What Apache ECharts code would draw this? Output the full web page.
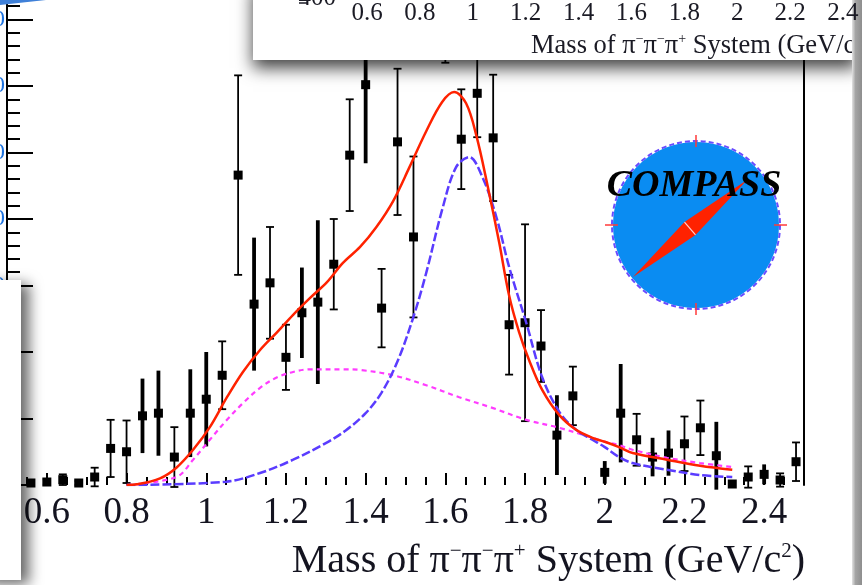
<!DOCTYPE html>
<html>
<head>
<meta charset="utf-8">
<title>Mass of π⁻π⁻π⁺ System</title>
<script src="https://cdn.jsdelivr.net/npm/echarts@6/dist/echarts.min.js"></script>
<style>
  html, body { margin: 0; padding: 0; background: #ffffff; }
  #chart { width: 862px; height: 585px; }
</style>
</head>
<body>
<div id="chart"></div>
<script>
// Bin centres (GeV/c^2), events per bin and their errors
const massBins = [0.56, 0.60, 0.64, 0.68, 0.72, 0.76, 0.80, 0.84, 0.88, 0.92, 0.96, 1.00,
  1.04, 1.08, 1.12, 1.16, 1.20, 1.24, 1.28, 1.32, 1.36, 1.40, 1.44, 1.48, 1.52, 1.56,
  1.60, 1.64, 1.68, 1.72, 1.76, 1.80, 1.84, 1.88, 1.92, 2.00, 2.04, 2.08, 2.12, 2.16,
  2.20, 2.24, 2.28, 2.32, 2.36, 2.40, 2.44, 2.48];
const counts = [0.3, 0.45, 0.8, 0.3, 1.2, 5.5, 5.0, 10.4, 10.8, 4.2, 10.8, 12.9,
  16.5, 46.6, 27.2, 30.4, 19.2, 25.9, 27.5, 33.2, 49.6, 60.2, 26.6, 51.6, 37.3, 78.0,
  75.0, 52.0, 58.9, 52.2, 24.1, 24.4, 20.9, 7.5, 13.4, 1.9, 10.8, 6.8, 4.2, 4.8,
  6.2, 8.6, 4.4, 0.15, 1.2, 1.6, 0.75, 3.5];
const errors = [0.3, 0.4, 0.8, 0.3, 1.4, 4.3, 4.7, 5.6, 6.4, 4.5, 6.6, 7.1,
  5.1, 15.0, 10.0, 8.4, 4.9, 6.8, 12.3, 6.8, 8.4, 11.8, 5.9, 11.0, 12.1, 12.0,
  11.5, 7.5, 6.6, 9.5, 7.5, 14.8, 5.4, 6.0, 4.4, 1.7, 7.4, 3.9, 2.9, 3.4,
  4.1, 4.1, 5.1, 0.2, 1.6, 1.5, 1.0, 2.9];

// Fit components: total, resonance and background
const totalFit = [[0.80, 0], [0.826, 0.1], [0.884, 1.0], [0.925, 2.6], [0.967, 5.3],
  [1.009, 8.7], [1.052, 13.2], [1.092, 17.0], [1.135, 20.3], [1.178, 23.0], [1.218, 25.6],
  [1.26, 28.1], [1.303, 30.5], [1.343, 33.4], [1.386, 35.8], [1.427, 38.8], [1.469, 42.7],
  [1.51, 47.8], [1.552, 53.2], [1.592, 57.6], [1.622, 59.1], [1.652, 57.4], [1.678, 52.5],
  [1.706, 45.0], [1.735, 36.5], [1.76, 28.5], [1.785, 23.0], [1.81, 18.8], [1.843, 14.3],
  [1.886, 10.5], [1.928, 8.3], [1.969, 7.1], [2.0, 6.5], [2.036, 5.7], [2.07, 4.8],
  [2.156, 3.8], [2.239, 2.9], [2.32, 2.3]];
const resonanceFit = [[0.80, 0], [1.05, 0.5], [1.135, 1.8], [1.218, 3.8], [1.30, 6.3],
  [1.35, 8.2], [1.40, 10.8], [1.44, 13.9], [1.48, 18.6], [1.52, 25.3], [1.552, 31.9],
  [1.592, 41.4], [1.627, 47.8], [1.66, 49.3], [1.693, 46.3], [1.728, 40.3], [1.76, 32.8],
  [1.803, 24.4], [1.843, 16.2], [1.886, 11.0], [1.928, 8.3], [1.969, 6.8], [2.0, 5.7],
  [2.036, 4.2], [2.07, 3.3], [2.156, 2.3], [2.239, 1.5], [2.32, 1.2]];
const backgroundFit = [[0.80, 0], [0.925, 1.2], [0.967, 3.8], [1.009, 6.8], [1.052, 9.8],
  [1.092, 12.3], [1.135, 14.6], [1.178, 16.2], [1.218, 17.0], [1.26, 17.4], [1.343, 17.4],
  [1.386, 17.3], [1.469, 16.5], [1.552, 15.0], [1.635, 13.2], [1.718, 11.6], [1.803, 9.8],
  [1.886, 8.6], [1.969, 7.1], [2.0, 6.5], [2.036, 6.0], [2.07, 5.3], [2.156, 4.1],
  [2.239, 3.3], [2.32, 2.7]];

// Axis tick labels
const massTicks = [0.6, 0.8, 1.0, 1.2, 1.4, 1.6, 1.8, 2.0, 2.2, 2.4];
const insetCountLabel = '400';

// Bins whose error bars are drawn heavy (no caps)
const heavyErrorBins = ['0.84', '0.88', '0.96', '1.00', '1.12', '1.24', '1.28', '1.40',
  '1.88', '2.00', '2.04', '2.12', '2.16', '2.28', '2.40'];

const SERIF = '"Liberation Serif", "Times New Roman", serif';
const massFmt = v => String(+(+v).toFixed(1));
const AXIS_TITLE = 'Mass of π{s|−}π{s|−}π{s|+} System (GeV/c{s|2})';

const chart = echarts.init(document.getElementById('chart'), null, { renderer: 'canvas' });

const plotGrid = { left: 7, right: 58, top: -47, bottom: 100, outerBoundsMode: 'none' };

// Compass logo geometry
const needleA = [633, 277], needleB = [747, 180];
const needleMid = [(needleA[0] + needleB[0]) / 2, (needleA[1] + needleB[1]) / 2];
const nrm = [0.648, 0.7615];
const needleW = 8.5;

function errorBarItem(params, api) {
  const m = api.value(0), v = api.value(1), e = api.value(2);
  const c = api.coord([m, v]);
  const hi = api.coord([m, v + e]);
  const lo = api.coord([m, v - e]);
  const heavy = heavyErrorBins.indexOf(m.toFixed(2)) >= 0;
  const children = [{
    type: 'line',
    shape: { x1: c[0], y1: hi[1], x2: c[0], y2: lo[1] },
    style: { stroke: '#000', lineWidth: heavy ? 3.8 : 1.8 }
  }];
  if (!heavy && hi[1] < lo[1] - 3) {
    [hi[1], lo[1]].forEach(y => children.push({
      type: 'line',
      shape: { x1: c[0] - 4, y1: y, x2: c[0] + 4, y2: y },
      style: { stroke: '#000', lineWidth: 1.8 }
    }));
  }
  children.push({
    type: 'rect',
    shape: { x: c[0] - 4.5, y: c[1] - 4.5, width: 9, height: 9 },
    style: { fill: '#000' }
  });
  return { type: 'group', children };
}

const option = {
  animation: false,
  backgroundColor: '#ffffff',
  grid: [
    plotGrid,
    { left: 340.6, width: 528.8, top: -100, height: 100, outerBoundsMode: 'none' },
    Object.assign({}, plotGrid)
  ],
  xAxis: [
    {
      type: 'value', gridIndex: 0, min: 0.5, max: 2.5, position: 'bottom',
      axisLine: { show: false },
      splitLine: { show: false },
      axisTick: { show: true, inside: true, length: 12, customValues: massTicks,
        lineStyle: { color: '#000', width: 2 } },
      axisLabel: { customValues: massTicks, margin: 10, formatter: massFmt,
        fontFamily: SERIF, fontSize: 37, color: '#141420' }
    },
    {
      type: 'value', gridIndex: 1, min: 0.5, max: 2.5, position: 'bottom', z: 60,
      axisLine: { show: false },
      splitLine: { show: false },
      axisTick: { show: false },
      axisLabel: { customValues: massTicks, margin: 1, formatter: massFmt,
        fontFamily: SERIF, fontSize: 25, color: '#1a1a24' }
    },
    {
      type: 'value', gridIndex: 2, min: 0.5, max: 2.5, interval: 0.05, position: 'bottom',
      axisLine: { show: false },
      splitLine: { show: false },
      axisLabel: { show: false },
      axisTick: { show: true, inside: true, length: 8, lineStyle: { color: '#000', width: 2 } }
    }
  ],
  yAxis: [
    {
      type: 'value', gridIndex: 0, min: 0, max: 80, interval: 10, position: 'left',
      axisLine: { show: true, lineStyle: { color: '#000', width: 2 } },
      splitLine: { show: false },
      axisTick: { show: true, inside: true, length: 26, lineStyle: { color: '#000', width: 2 } },
      minorTick: { show: true, splitNumber: 5, length: 13, lineStyle: { color: '#000', width: 2 } },
      axisLabel: { margin: 2, fontFamily: SERIF, fontSize: 24, color: '#1f74e0' }
    },
    {
      type: 'value', gridIndex: 0, min: 0, max: 80, position: 'right',
      axisLine: { show: true, lineStyle: { color: '#000', width: 2 } },
      splitLine: { show: false }, axisTick: { show: false }, axisLabel: { show: false }
    },
    { type: 'value', gridIndex: 1, min: 0, max: 1, show: false },
    { type: 'value', gridIndex: 2, min: 0, max: 80, show: false }
  ],
  series: [
    {
      name: 'Data', type: 'custom', xAxisIndex: 0, yAxisIndex: 0, z: 2, clip: false,
      data: massBins.map((m, i) => [m, counts[i], errors[i]]),
      encode: { x: 0, y: 1 },
      renderItem: errorBarItem
    },
    {
      name: 'Background', type: 'line', xAxisIndex: 0, yAxisIndex: 0, z: 3,
      data: backgroundFit, showSymbol: false, smooth: 0.35,
      lineStyle: { color: '#ff3cff', width: 2.2, type: [5, 4] }
    },
    {
      name: 'Resonance', type: 'line', xAxisIndex: 0, yAxisIndex: 0, z: 3,
      data: resonanceFit, showSymbol: false, smooth: 0.35,
      lineStyle: { color: '#5a3cff', width: 2.5, type: [9, 3] }
    },
    {
      name: 'Total', type: 'line', xAxisIndex: 0, yAxisIndex: 0, z: 4,
      data: totalFit, showSymbol: false, smooth: 0.35,
      lineStyle: { color: '#ff2200', width: 2.5 }
    }
  ],
  graphic: [
    // axis title of the main plot
    {
      type: 'text', z: 10,
      style: {
        x: 805, y: 561, align: 'right', verticalAlign: 'middle',
        text: AXIS_TITLE,
        font: '40px ' + SERIF, fill: '#141420',
        rich: { s: { fontSize: 21, fontFamily: SERIF, verticalAlign: 'top', fill: '#141420' } }
      }
    },
    // COMPASS logo
    { type: 'circle', z: 20, shape: { cx: 696, cy: 225, r: 84 },
      style: { fill: '#0a8cf2', stroke: '#ffffff', lineWidth: 2 } },
    { type: 'circle', z: 21, shape: { cx: 696, cy: 225, r: 84 },
      style: { fill: null, stroke: '#6a4cff', lineWidth: 2, lineDash: [5, 3] } },
    { type: 'line', z: 22, shape: { x1: 696, y1: 135, x2: 696, y2: 147 }, style: { stroke: '#ff3a3a', lineWidth: 1.5 } },
    { type: 'line', z: 22, shape: { x1: 696, y1: 303, x2: 696, y2: 315 }, style: { stroke: '#ff3a3a', lineWidth: 1.5 } },
    { type: 'line', z: 22, shape: { x1: 605, y1: 225, x2: 618, y2: 225 }, style: { stroke: '#ff3a3a', lineWidth: 1.5 } },
    { type: 'line', z: 22, shape: { x1: 774, y1: 225, x2: 787, y2: 225 }, style: { stroke: '#ff3a3a', lineWidth: 1.5 } },
    { type: 'polygon', z: 23,
      shape: { points: [needleA,
        [needleMid[0] + nrm[0] * needleW, needleMid[1] + nrm[1] * needleW],
        needleB,
        [needleMid[0] - nrm[0] * needleW, needleMid[1] - nrm[1] * needleW]] },
      style: { fill: '#ff2200' } },
    { type: 'line', z: 24,
      shape: { x1: needleMid[0] + nrm[0] * needleW, y1: needleMid[1] + nrm[1] * needleW,
               x2: needleMid[0] - nrm[0] * needleW, y2: needleMid[1] - nrm[1] * needleW },
      style: { stroke: '#ffd0d0', lineWidth: 1.2 } },
    { type: 'text', z: 25,
      style: { x: 694, y: 186, align: 'center', verticalAlign: 'middle', text: 'COMPASS',
        font: 'italic bold 38px ' + SERIF, fill: '#000000' } },
    // blue edge in the top-left corner
    { type: 'polygon', z: 40, shape: { points: [[0, 0], [46, 0], [0, 5]] }, style: { fill: '#3f80d8' } },
    // overlapping panels
    { type: 'rect', z: 50, shape: { x: 253, y: -20, width: 604, height: 80 },
      style: { fill: '#ffffff', shadowBlur: 16, shadowOffsetY: 8, shadowColor: 'rgba(0,0,0,0.75)' } },
    { type: 'rect', z: 50, shape: { x: -20, y: 280, width: 41, height: 300 },
      style: { fill: '#ffffff', shadowBlur: 14, shadowOffsetX: 8, shadowOffsetY: 4, shadowColor: 'rgba(0,0,0,0.6)' } },
    { type: 'text', z: 52,
      style: { x: 531, y: 46, align: 'left', verticalAlign: 'middle',
        text: AXIS_TITLE,
        font: '26.5px ' + SERIF, fill: '#1a1a24',
        rich: { s: { fontSize: 14, fontFamily: SERIF, verticalAlign: 'top', fill: '#1a1a24' } } } },
    { type: 'text', z: 60,
      style: { x: 336, y: 11, align: 'right', verticalAlign: 'bottom', text: insetCountLabel,
        font: '25px ' + SERIF, fill: '#1a1a24' } },
    { type: 'line', z: 60, shape: { x1: 299, y1: 3, x2: 308, y2: 3 }, style: { stroke: '#1a1a24', lineWidth: 1.5 } },
    // grey edge on the right
    { type: 'rect', z: 55, shape: { x: 852, y: 0, width: 10, height: 585 },
      style: { fill: new echarts.graphic.LinearGradient(0, 0, 1, 0, [
        { offset: 0, color: '#e2e2e2' }, { offset: 0.35, color: '#a4a4a4' }, { offset: 1, color: '#8e8e8e' }]) } }
  ]
};

chart.setOption(option);
</script>
</body>
</html>
